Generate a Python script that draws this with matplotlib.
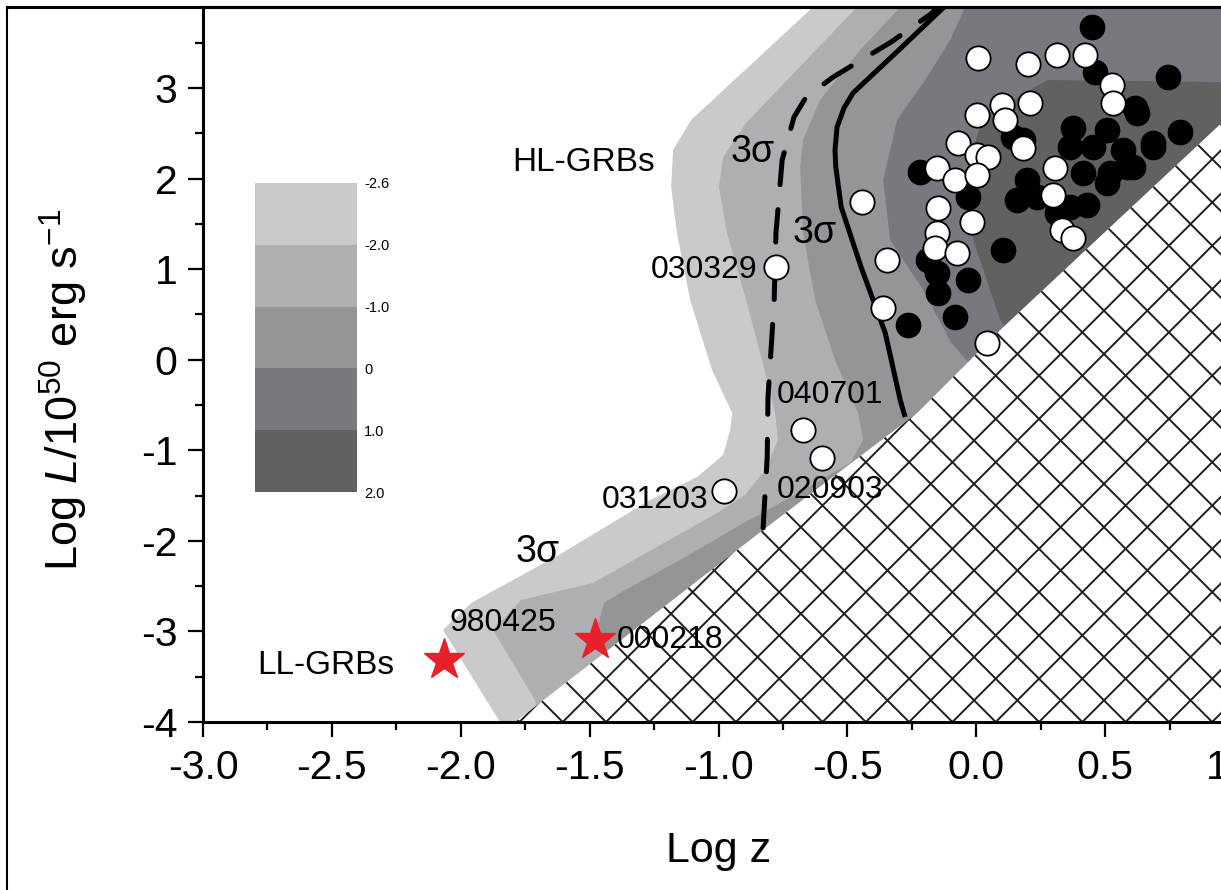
import numpy as np
import matplotlib
matplotlib.use("Agg")
import matplotlib.pyplot as plt
from matplotlib.colors import ListedColormap, BoundaryNorm
from matplotlib.cm import ScalarMappable
from matplotlib.patches import Polygon
from matplotlib.lines import Line2D
from matplotlib.ticker import MultipleLocator, FormatStrFormatter

plt.rcParams['font.family'] = ['Liberation Sans', 'DejaVu Sans']
plt.rcParams['axes.unicode_minus'] = False
plt.rcParams['mathtext.fontset'] = 'custom'
plt.rcParams['mathtext.rm'] = 'Liberation Sans'
plt.rcParams['mathtext.it'] = 'Liberation Sans:italic'

# ---- data (log z, log L/1e50) ----
hl_open_x = [0.007, 0.201, 0.314, 0.423, 0.527, 0.531, 0.004, 0.100, 0.112, 0.209,
             -0.070, 0.004, 0.046, -0.152, -0.082, 0.004, 0.182, 0.306, 0.298, -0.443,
             -0.148, -0.016, -0.152, -0.159, -0.074, 0.333, 0.376, -0.346, -0.361, 0.042,
             -0.776, -0.672, -0.598, -0.978]
hl_open_y = [3.330, 3.265, 3.364, 3.364, 3.033, 2.834, 2.702, 2.812, 2.647, 2.834,
             2.393, 2.260, 2.238, 2.117, 1.984, 2.039, 2.338, 2.117, 1.819, 1.741,
             1.675, 1.520, 1.399, 1.233, 1.178, 1.432, 1.344, 1.101, 0.571, 0.184,
             1.024, -0.776, -1.085, -1.450]

hl_fill_x = [0.745, 0.461, 0.617, 0.791, 0.376, 0.508, 0.364, 0.454, 0.570, 0.686,
             0.415, 0.520, 0.586, 0.508, 0.182, 0.198, 0.159, 0.236, 0.364, 0.430,
             0.314, -0.218, -0.031, 0.104, -0.187, -0.152, -0.148, -0.031, -0.082, -0.264,
             0.450, 0.624, 0.686, 0.609, 0.143]
hl_fill_y = [3.121, 3.177, 2.779, 2.514, 2.558, 2.536, 2.349, 2.349, 2.315, 2.349,
             2.061, 2.061, 2.128, 1.951, 2.426, 1.984, 1.763, 1.797, 1.686, 1.708,
             1.620, 2.073, 1.797, 1.211, 1.101, 0.957, 0.737, 0.880, 0.472, 0.383,
             3.674, 2.724, 2.393, 2.128, 2.459]

ll_x = [-2.065, -1.479]
ll_y = [-3.316, -3.095]

grb_names = ["030329", "040701", "020903", "031203", "980425", "000218"]
name_x = [-0.850, -0.773, -0.773, -1.040, -2.045, -1.393]
name_y = [0.990, -0.390, -1.439, -1.549, -2.907, -3.095]
name_ha = ["right", "left", "left", "right", "left", "left"]

solid_x = [-0.074, -0.125, -0.300, -0.478, -0.513, -0.540, -0.548, -0.545, -0.524, -0.447,
           -0.353, -0.295, -0.276]
solid_y = [4.03, 3.894, 3.42, 2.945, 2.779, 2.569, 2.315, 2.128, 1.686, 1.024,
           0.295, -0.445, -0.633]

dash_x = [-0.121, -0.171, -0.330, -0.555, -0.660, -0.707, -0.753, -0.777, -0.784, -0.792,
          -0.808, -0.811, -0.827]
dash_y = [4.0, 3.828, 3.508, 3.121, 2.900, 2.680, 2.205, 1.399, 0.659, 0.295,
          -0.412, -1.074, -1.858]

# contour bands, outermost (lowest level) first
band1_x = [-0.52, -0.633, -1.106, -1.176, -1.184, -1.161, -1.110, -1.025, -0.947, -0.955,
           -0.982, -1.083, -1.265, -1.626, -1.960, -2.069, -1.848, -1.848, 1.2, 1.2]
band1_y = [4.2, 3.894, 2.647, 2.315, 1.907, 1.399, 0.659, -0.114, -0.588, -0.776,
           -1.052, -1.295, -1.549, -2.167, -2.686, -2.984, -4.0, -4.3, -4.3, 4.2]
band2_x = [-0.359, -0.462, -0.893, -0.982, -0.998, -0.967, -0.893, -0.831, -0.780, -0.769,
           -0.819, -0.897, -1.005, -1.246, -1.487, -1.766, -1.875, -1.712, -1.673, 1.2, 1.2]
band2_y = [4.2, 3.894, 2.614, 2.238, 1.907, 1.399, 0.659, -0.003, -0.588, -0.887,
           -1.218, -1.494, -1.692, -2.079, -2.465, -2.653, -2.984, -3.757, -4.3, -4.3, 4.2]
band3_x = [-0.195, -0.295, -0.450, -0.606, -0.672, -0.683, -0.672, -0.625, -0.548, -0.458,
           -0.439, -0.489, -0.683, -0.916, -1.149, -1.362, -1.444, -1.467, -1.440, -1.44, 1.2, 1.2]
band3_y = [4.2, 3.894, 3.420, 2.868, 2.426, 2.128, 1.399, 0.659, -0.003, -0.588,
           -0.887, -1.140, -1.461, -1.825, -2.211, -2.543, -2.686, -2.929, -3.316, -4.3, -4.3, 4.2]
band4_x = [0.006, -0.043, -0.101, -0.198, -0.307, -0.361, -0.334, -0.206, -0.10, 0.02, 0.02, 1.2, 1.2]
band4_y = [4.2, 3.894, 3.530, 3.088, 2.647, 1.984, 1.322, 0.770, 0.20, -0.2, -4.3, -4.3, 4.2]
band5_x = [1.2, 0.946, 0.275, 0.027, -0.035, -0.012, 0.093, 0.132, 1.2]
band5_y = [3.11, 3.066, 3.088, 2.680, 2.128, 1.322, 0.438, 0.273, -4.3]

# detection-limit (hatched) region
limit_x = [-1.925, -0.827, -0.229, 0.093, 0.935, 1.05, 1.05]
limit_y = [-4.3, -1.880, -0.588, 0.328, 2.569, 2.875, -4.3]

levels = [-2.6, -2.0, -1.0, 0, 1.0, 2.0]
level_labels = ["-2.6", "-2.0", "-1.0", "0", "1.0", "2.0"]
band_colors = ["#cacacd", "#aeaeb3", "#949599", "#77797f", "#606160"]

# ---- figure ----
W, H = 1221, 890
fig = plt.figure(figsize=(W / 100, H / 100), dpi=100)
ax = fig.add_axes([203 / W, 168 / H, 1031 / W, 715 / H])
xmin, xmax, ymin, ymax = -3.0, 1.0, -4.0, 3.894
ax.set_xlim(xmin, xmax)
ax.set_ylim(ymin, ymax)

bands = [(band1_x, band1_y), (band2_x, band2_y), (band3_x, band3_y),
         (band4_x, band4_y), (band5_x, band5_y)]
for i, (bx, by) in enumerate(bands):
    ax.fill(bx, by, color=band_colors[i], lw=0, zorder=1 + i * 0.1)

limit = Polygon(np.column_stack([limit_x, limit_y]), closed=True,
                facecolor="white", edgecolor="none", zorder=2)
ax.add_patch(limit)

# cross hatch, 45 deg on screen, drawn by hand for the wide spacing
px_x = 1031 / (xmax - xmin)
px_y = 715 / (ymax - ymin)
s = px_x / px_y
step = 43.3 / px_x
anchors = 0.9155 + step * np.arange(-40, 40)
yy = np.array([ymin - 0.5, ymax + 0.5])
for a in anchors:
    for sign in (1, -1):
        ln, = ax.plot(a + (yy - ymin) / (sign * s), yy, color="#1e1e1e", lw=1.4, zorder=2.5)
        ln.set_clip_path(limit)

ax.plot(solid_x, solid_y, color="black", lw=3.6, zorder=3, solid_capstyle="butt")
ax.plot(dash_x, dash_y, color="black", lw=3.6, zorder=3, linestyle=(0, (6.5, 5)),
        dash_capstyle="round")

ax.plot(hl_fill_x, hl_fill_y, "o", ms=17.5, color="black", mec="black", zorder=4)
ax.plot(hl_open_x, hl_open_y, "o", ms=17.5, color="white", mec="black", mew=1.3, zorder=5)
ax.plot(ll_x, ll_y, "*", ms=31, color="#e8202a", mec="#e8202a", zorder=5)

for n, tx, ty, ha in zip(grb_names, name_x, name_y, name_ha):
    ax.text(tx, ty, n, fontsize=23, ha=ha, va="center", zorder=6)

ax.text(-1.801, 2.172, "HL-GRBs", fontsize=24, ha="left", va="center", zorder=6)
ax.text(-2.790, -3.371, "LL-GRBs", fontsize=24, ha="left", va="center", zorder=6)
ax.text(-0.955, 2.293, "3σ", fontsize=27, ha="left", va="center", zorder=6)
ax.text(-0.714, 1.399, "3σ", fontsize=27, ha="left", va="center", zorder=6)
ax.text(-1.789, -2.123, "3σ", fontsize=27, ha="left", va="center", zorder=6)

ax.xaxis.set_major_locator(MultipleLocator(0.5))
ax.xaxis.set_minor_locator(MultipleLocator(0.25))
ax.yaxis.set_major_locator(MultipleLocator(1))
ax.yaxis.set_minor_locator(MultipleLocator(0.5))
ax.xaxis.set_major_formatter(FormatStrFormatter("%.1f"))
ax.yaxis.set_major_formatter(FormatStrFormatter("%d"))
ax.tick_params(which="major", direction="out", length=10.5, width=1.6, labelsize=29.5)
ax.tick_params(axis="x", which="major", pad=9)
ax.tick_params(axis="y", which="major", pad=8)
ax.tick_params(which="minor", direction="out", length=6, width=1.6)
for side in ["left", "bottom", "top"]:
    ax.spines[side].set_linewidth(2.2)
ax.spines["right"].set_visible(False)

fig.text(719 / W, 1 - 851 / H, "Log z", fontsize=31, ha="center", va="center")
fig.text(64 / W, 1 - 390 / H, r"Log $L$/10$^{50}$ erg s$^{-1}$", fontsize=32.5,
         rotation=90, ha="center", va="center")

# level key
cax = fig.add_axes([255 / W, 1 - 492 / H, 102 / W, 309 / H])
cmap = ListedColormap(band_colors)
norm = BoundaryNorm(levels, cmap.N)
cb = fig.colorbar(ScalarMappable(norm=norm, cmap=cmap), cax=cax, spacing="uniform", ticks=levels)
cb.outline.set_visible(False)
cax.invert_yaxis()
cax.set_yticklabels(level_labels)
cax.tick_params(length=0, labelsize=10.5, pad=5)

# page frame
fig.add_artist(Line2D([7 / W, 7 / W], [0, 1 - 7 / H], transform=fig.transFigure, color="black", lw=1.5))
fig.add_artist(Line2D([7 / W, 1], [1 - 7 / H, 1 - 7 / H], transform=fig.transFigure, color="black", lw=2.2))

fig.savefig("out.png", dpi=100)
